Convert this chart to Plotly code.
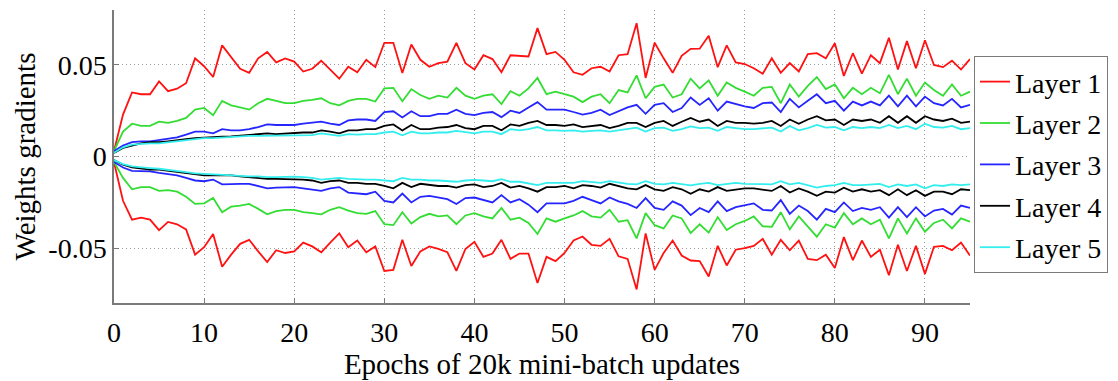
import plotly.graph_objects as go

epochs = list(range(96))

layer1_pos = [0.003, 0.0229, 0.035, 0.034, 0.034, 0.041, 0.0357, 0.037, 0.040, 0.0536,
              0.0493, 0.0434, 0.0607, 0.054, 0.0479, 0.0457, 0.0536, 0.0571, 0.0514, 0.0536,
              0.0518, 0.0464, 0.0479, 0.0523, 0.0475, 0.0425, 0.049, 0.046, 0.0528, 0.0488,
              0.0621, 0.0621, 0.0456, 0.0612, 0.0528, 0.049, 0.051, 0.0518, 0.0621, 0.051,
              0.0475, 0.0553, 0.0532, 0.046, 0.0553, 0.055, 0.0546, 0.0701, 0.0559, 0.0571,
              0.0528, 0.046, 0.0446, 0.0482, 0.049, 0.0464, 0.0553, 0.0559, 0.0728, 0.0429,
              0.0621, 0.0536, 0.0457, 0.055, 0.0588, 0.0589, 0.066, 0.0488, 0.0607, 0.0514,
              0.0505, 0.0482, 0.0452, 0.0536, 0.0457, 0.051, 0.0464, 0.0559, 0.0564, 0.0536,
              0.0618, 0.044, 0.0564, 0.0452, 0.0553, 0.051, 0.0648, 0.0475, 0.063, 0.0482,
              0.0635, 0.05, 0.0488, 0.0523, 0.0475, 0.0532]
layer2_pos = [0.003, 0.0136, 0.0179, 0.0167, 0.0167, 0.019, 0.0184, 0.0194, 0.0211, 0.0256,
              0.0265, 0.0226, 0.0304, 0.0279, 0.0268, 0.0256, 0.0291, 0.0315, 0.0304, 0.0291,
              0.0291, 0.0304, 0.0309, 0.0318, 0.0291, 0.0279, 0.0304, 0.0315, 0.0315, 0.030,
              0.0372, 0.0375, 0.0302, 0.0368, 0.0336, 0.0315, 0.0332, 0.0322, 0.0375, 0.0332,
              0.0315, 0.0332, 0.034, 0.0286, 0.0357, 0.0332, 0.0372, 0.0429, 0.034, 0.0354,
              0.034, 0.0327, 0.0297, 0.0327, 0.034, 0.0291, 0.0363, 0.035, 0.0443, 0.0318,
              0.038, 0.0393, 0.0322, 0.034, 0.0425, 0.0372, 0.0416, 0.0332, 0.0404, 0.0375,
              0.0354, 0.0332, 0.0375, 0.038, 0.0291, 0.0393, 0.0327, 0.0386, 0.0434, 0.0368,
              0.0393, 0.0318, 0.0375, 0.034, 0.0375, 0.0345, 0.0446, 0.034, 0.0425, 0.0332,
              0.0404, 0.0363, 0.0332, 0.0393, 0.0332, 0.0354]
layer3_pos = [0.003, 0.006, 0.0078, 0.0083, 0.0083, 0.009, 0.0095, 0.0104, 0.0119, 0.0136,
              0.0136, 0.0126, 0.0149, 0.0143, 0.0143, 0.0149, 0.0161, 0.0175, 0.0172, 0.0172,
              0.0172, 0.0179, 0.0184, 0.019, 0.0179, 0.0172, 0.0197, 0.0202, 0.0202, 0.0194,
              0.0243, 0.0247, 0.0213, 0.0247, 0.022, 0.022, 0.0233, 0.0233, 0.0256, 0.0233,
              0.0226, 0.0238, 0.0243, 0.0215, 0.025, 0.0238, 0.0268, 0.0297, 0.0256, 0.0256,
              0.0256, 0.0243, 0.0229, 0.0238, 0.0256, 0.0226, 0.0247, 0.0268, 0.0282, 0.0233,
              0.0282, 0.0291, 0.0243, 0.0265, 0.0322, 0.0282, 0.0318, 0.025, 0.030, 0.0286,
              0.0274, 0.0265, 0.0291, 0.0295, 0.0243, 0.0315, 0.0268, 0.0304, 0.034, 0.0291,
              0.0304, 0.025, 0.030, 0.0279, 0.030, 0.0279, 0.0332, 0.0274, 0.0332, 0.0274,
              0.0327, 0.0291, 0.0279, 0.0315, 0.0268, 0.0282]
layer4_pos = [0.002, 0.0047, 0.006, 0.0072, 0.0078, 0.0078, 0.0083, 0.0087, 0.0095, 0.010,
              0.0104, 0.0104, 0.0108, 0.011, 0.0113, 0.0119, 0.0119, 0.0126, 0.0122, 0.0126,
              0.0126, 0.0131, 0.0131, 0.0143, 0.0136, 0.0126, 0.0143, 0.0143, 0.0149, 0.0149,
              0.0167, 0.0175, 0.0142, 0.0172, 0.0149, 0.0149, 0.0158, 0.0161, 0.0172, 0.0155,
              0.0149, 0.0167, 0.0167, 0.0143, 0.0175, 0.0167, 0.0184, 0.0194, 0.0172, 0.0172,
              0.0167, 0.0175, 0.0161, 0.0167, 0.0172, 0.0155, 0.0167, 0.0184, 0.0184, 0.0161,
              0.0184, 0.0194, 0.0167, 0.019, 0.0211, 0.019, 0.0202, 0.0167, 0.0194, 0.0184,
              0.0184, 0.0179, 0.0184, 0.0194, 0.0167, 0.0202, 0.0179, 0.0202, 0.022, 0.0197,
              0.0202, 0.0172, 0.0202, 0.0194, 0.0202, 0.0184, 0.022, 0.0184, 0.022, 0.0184,
              0.022, 0.0202, 0.0194, 0.0207, 0.0184, 0.019]
layer5_pos = [0.002, 0.005, 0.0065, 0.0069, 0.0072, 0.0072, 0.0078, 0.0083, 0.009, 0.0095,
              0.010, 0.010, 0.0104, 0.0104, 0.0108, 0.0113, 0.0113, 0.0113, 0.0113, 0.0113,
              0.0113, 0.0113, 0.0117, 0.0126, 0.0119, 0.0113, 0.0122, 0.0119, 0.0122, 0.0122,
              0.0131, 0.0136, 0.0116, 0.0136, 0.0126, 0.0126, 0.0131, 0.0131, 0.014, 0.0131,
              0.0126, 0.0136, 0.0136, 0.0122, 0.0149, 0.0143, 0.0149, 0.0161, 0.0143, 0.0143,
              0.014, 0.0143, 0.0136, 0.014, 0.0143, 0.0136, 0.0143, 0.0149, 0.0158, 0.0136,
              0.0155, 0.0158, 0.014, 0.0149, 0.0164, 0.0155, 0.0158, 0.014, 0.0161, 0.0155,
              0.0149, 0.0149, 0.0155, 0.0158, 0.0136, 0.0167, 0.0143, 0.0155, 0.0172, 0.0158,
              0.0161, 0.0143, 0.0161, 0.0155, 0.0161, 0.0155, 0.0172, 0.0155, 0.0167, 0.0149,
              0.0179, 0.0161, 0.0158, 0.0167, 0.0149, 0.0155]

layer1_neg = [-0.0031, -0.0242, -0.0345, -0.0334, -0.0345, -0.0402, -0.0357, -0.037, -0.0398, -0.0536,
              -0.0495, -0.0423, -0.0602, -0.0536, -0.0477, -0.0455, -0.0518, -0.0576, -0.0512, -0.0527,
              -0.0518, -0.047, -0.0491, -0.0523, -0.047, -0.042, -0.0495, -0.0459, -0.0523, -0.0491,
              -0.0625, -0.0619, -0.0455, -0.0598, -0.0518, -0.0491, -0.0505, -0.0523, -0.0625, -0.0505,
              -0.0466, -0.0548, -0.053, -0.0455, -0.0559, -0.053, -0.053, -0.0691, -0.0548, -0.0571,
              -0.0527, -0.0459, -0.0437, -0.0482, -0.0488, -0.045, -0.0545, -0.0559, -0.0726, -0.042,
              -0.0619, -0.0527, -0.0459, -0.0541, -0.0568, -0.0571, -0.0655, -0.0488, -0.0595, -0.0509,
              -0.05, -0.0488, -0.045, -0.0536, -0.0455, -0.0512, -0.0459, -0.0559, -0.0566, -0.0536,
              -0.0609, -0.044, -0.0566, -0.0459, -0.0548, -0.0509, -0.0648, -0.0482, -0.0625, -0.0488,
              -0.0641, -0.0493, -0.0488, -0.0512, -0.047, -0.0541]
layer2_neg = [-0.003, -0.0117, -0.0179, -0.0167, -0.0167, -0.0188, -0.0184, -0.0192, -0.022, -0.0259,
              -0.0256, -0.0227, -0.0304, -0.0274, -0.0268, -0.0259, -0.0286, -0.0316, -0.0298, -0.0291,
              -0.0291, -0.0304, -0.0309, -0.0316, -0.0291, -0.0277, -0.0295, -0.0309, -0.0313, -0.0298,
              -0.037, -0.0375, -0.0304, -0.0366, -0.0331, -0.0313, -0.0327, -0.0322, -0.037, -0.0322,
              -0.0309, -0.0327, -0.0338, -0.0281, -0.0345, -0.0334, -0.0363, -0.0423, -0.0338, -0.0356,
              -0.0338, -0.0322, -0.0298, -0.0327, -0.0334, -0.0291, -0.0356, -0.0348, -0.0447, -0.0309,
              -0.0375, -0.0393, -0.0322, -0.0338, -0.0418, -0.037, -0.0416, -0.0331, -0.0402, -0.037,
              -0.0352, -0.0327, -0.0381, -0.0384, -0.0304, -0.0398, -0.0327, -0.0384, -0.0438, -0.037,
              -0.0388, -0.0309, -0.037, -0.0338, -0.037, -0.0345, -0.0447, -0.0338, -0.042, -0.0338,
              -0.0411, -0.0363, -0.0345, -0.0393, -0.0338, -0.0356]
layer3_neg = [-0.003, -0.006, -0.0078, -0.0081, -0.0081, -0.009, -0.0095, -0.0103, -0.0117, -0.0131,
              -0.0135, -0.0126, -0.0152, -0.0149, -0.0149, -0.0149, -0.0161, -0.0174, -0.017, -0.017,
              -0.0167, -0.0174, -0.0179, -0.0188, -0.0174, -0.0167, -0.0197, -0.0202, -0.0206, -0.0192,
              -0.0242, -0.0251, -0.0202, -0.0251, -0.022, -0.0215, -0.0224, -0.0233, -0.0259, -0.0227,
              -0.0224, -0.0238, -0.0251, -0.0211, -0.0251, -0.0233, -0.0263, -0.0304, -0.0256, -0.0256,
              -0.0256, -0.0242, -0.022, -0.0238, -0.0256, -0.0224, -0.0245, -0.0259, -0.0281, -0.0227,
              -0.0281, -0.0291, -0.0245, -0.0268, -0.032, -0.0281, -0.0304, -0.0245, -0.0298, -0.0277,
              -0.0268, -0.0256, -0.0291, -0.0295, -0.0238, -0.0313, -0.0268, -0.0298, -0.0345, -0.0286,
              -0.0304, -0.0251, -0.0298, -0.0281, -0.0291, -0.0277, -0.0334, -0.0277, -0.0331, -0.0277,
              -0.0327, -0.0295, -0.0286, -0.0317, -0.0268, -0.0281]
layer4_neg = [-0.002, -0.0045, -0.006, -0.0067, -0.0072, -0.0072, -0.0078, -0.0085, -0.009, -0.0099,
              -0.0103, -0.0103, -0.0103, -0.0103, -0.0108, -0.0113, -0.0117, -0.0122, -0.0122, -0.0122,
              -0.0122, -0.0126, -0.0131, -0.0144, -0.0135, -0.0131, -0.0144, -0.0144, -0.0149, -0.0149,
              -0.0161, -0.0174, -0.0144, -0.0167, -0.0149, -0.0156, -0.0161, -0.0161, -0.017, -0.0156,
              -0.0152, -0.0167, -0.0161, -0.0144, -0.017, -0.0161, -0.0174, -0.0192, -0.0167, -0.0167,
              -0.0161, -0.0174, -0.0156, -0.0161, -0.017, -0.0149, -0.0161, -0.0174, -0.0179, -0.0156,
              -0.0179, -0.0188, -0.0167, -0.0179, -0.0204, -0.0179, -0.0192, -0.0167, -0.0188, -0.0179,
              -0.0174, -0.0174, -0.0179, -0.0188, -0.0161, -0.0197, -0.0174, -0.0192, -0.0215, -0.0192,
              -0.0197, -0.017, -0.0192, -0.0179, -0.0192, -0.0184, -0.0211, -0.0179, -0.0211, -0.0184,
              -0.0215, -0.0192, -0.0192, -0.0206, -0.0179, -0.0184]
layer5_neg = [-0.002, -0.0042, -0.0054, -0.006, -0.0063, -0.0067, -0.0072, -0.0078, -0.0085, -0.0092,
              -0.0095, -0.0095, -0.0099, -0.0103, -0.0104, -0.0108, -0.0108, -0.0113, -0.0113, -0.011,
              -0.011, -0.0113, -0.0117, -0.0126, -0.0122, -0.0117, -0.0122, -0.0126, -0.0126, -0.0126,
              -0.0131, -0.0135, -0.0117, -0.0126, -0.0126, -0.0131, -0.0131, -0.0135, -0.0138, -0.0131,
              -0.0128, -0.0131, -0.0135, -0.0124, -0.0138, -0.0138, -0.0149, -0.0156, -0.0144, -0.0144,
              -0.0144, -0.0144, -0.0135, -0.0138, -0.0144, -0.0135, -0.0144, -0.0149, -0.0152, -0.0135,
              -0.0149, -0.0152, -0.0144, -0.0149, -0.0158, -0.0149, -0.0144, -0.0156, -0.0149, -0.0144,
              -0.0149, -0.0149, -0.0149, -0.0152, -0.0135, -0.0152, -0.0144, -0.0156, -0.017, -0.0161,
              -0.0156, -0.0144, -0.0156, -0.0156, -0.0152, -0.0149, -0.0167, -0.0152, -0.0161, -0.0152,
              -0.0174, -0.0156, -0.0161, -0.0152, -0.0156, -0.0152]

layer_names = ["Layer 1", "Layer 2", "Layer 3", "Layer 4", "Layer 5"]
layer_colors = ["#ff1111", "#33dd33", "#2525ff", "#000000", "#33eeee"]
pos_series = [layer1_pos, layer2_pos, layer3_pos, layer4_pos, layer5_pos]
neg_series = [layer1_neg, layer2_neg, layer3_neg, layer4_neg, layer5_neg]

x_ticks = [0, 10, 20, 30, 40, 50, 60, 70, 80, 90]
y_ticks = [-0.05, 0, 0.05]
y_tick_text = ["-0.05", "0", "0.05"]

SERIF = "Liberation Serif, Times New Roman, Times, serif"

fig = go.Figure()
for name, color, pos, neg in zip(layer_names, layer_colors, pos_series, neg_series):
    fig.add_trace(go.Scatter(x=epochs[:len(pos)], y=pos, mode="lines", name=name,
                             legendgroup=name, line=dict(color=color, width=1.8)))
    fig.add_trace(go.Scatter(x=epochs[:len(neg)], y=neg, mode="lines", name=name,
                             legendgroup=name, showlegend=False,
                             line=dict(color=color, width=1.8)))

axis_common = dict(
    showgrid=True, gridcolor="#9a9a9a", griddash="1px,3px", gridwidth=1,
    showline=True, linecolor="#7a7a7a", linewidth=1.5,
    ticks="inside", ticklen=5, tickcolor="#7a7a7a", tickwidth=1,
    zeroline=False, mirror=False,
    tickfont=dict(family=SERIF, size=28, color="black"),
)

fig.update_layout(
    width=1118, height=381,
    margin=dict(l=114, r=145, t=10, b=71),
    paper_bgcolor="white", plot_bgcolor="white",
    font=dict(family=SERIF, size=28, color="black"),
    xaxis=dict(range=[0, 95], tickvals=x_ticks, ticklabelstandoff=4,
               title=dict(text="Epochs of 20k mini-batch updates", standoff=2,
                          font=dict(family=SERIF, size=29)),
               **axis_common),
    yaxis=dict(range=[-0.08, 0.08], tickvals=y_ticks, ticktext=y_tick_text,
               ticklabelstandoff=0,
               title=dict(text="Weights gradients", standoff=4,
                          font=dict(family=SERIF, size=29)),
               **axis_common),
    legend=dict(x=(977 - 114) / 859, xanchor="left", y=(310 - 57) / 300, yanchor="top",
                bordercolor="#7a7a7a", borderwidth=1, bgcolor="white",
                font=dict(family=SERIF, size=28), tracegroupgap=2,
                itemwidth=30),
    showlegend=True,
)

fig.write_html("out.html")
